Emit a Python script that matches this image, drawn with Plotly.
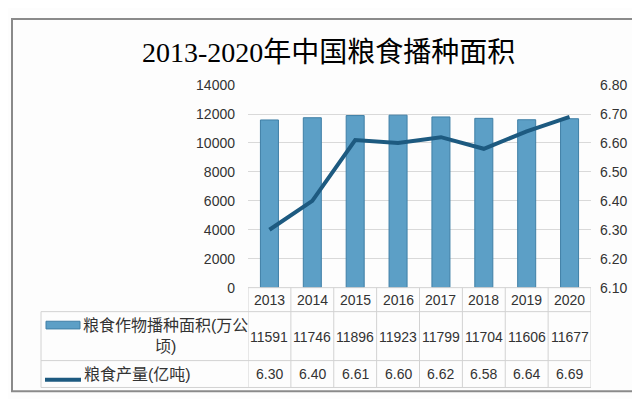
import plotly.graph_objects as go

# ---------------- data ----------------
years = ["2013", "2014", "2015", "2016", "2017", "2018", "2019", "2020"]
area = [11591, 11746, 11896, 11923, 11799, 11704, 11606, 11677]
output = [6.30, 6.40, 6.61, 6.60, 6.62, 6.58, 6.64, 6.69]
left_ticks = [0, 2000, 4000, 6000, 8000, 10000, 12000, 14000]
right_ticks = [6.10, 6.20, 6.30, 6.40, 6.50, 6.60, 6.70, 6.80]
title_text = "2013-2020年中国粮食播种面积"
area_label = "粮食作物播种面积(万公<br>顷)"
output_label = "粮食产量(亿吨)"

# ---------------- layout helpers ----------------
W, H = 640, 399


def px(x):
    return x / W


def py(y):
    return 1 - y / H


BAR_COLOR = "#5c9fc6"
BAR_EDGE = "#3f7fa6"
LINE_COLOR = "#1d5a80"
GRID = "#d9d9d9"
TBL = "#d2d2d2"
TXT = "#333333"
FONT = "Liberation Sans, Noto Sans CJK SC, sans-serif"

plot_l, plot_r, plot_t, plot_b = 240, 583, 72, 283

fig = go.Figure()
fig.add_trace(go.Bar(
    x=years, y=area, name="粮食作物播种面积(万公顷)",
    marker=dict(color=BAR_COLOR, line=dict(color=BAR_EDGE, width=1)),
    width=0.42,
))
fig.add_trace(go.Scatter(
    x=years, y=output, name="粮食产量(亿吨)", yaxis="y2", mode="lines",
    line=dict(color=LINE_COLOR, width=4),
))

shapes = []
annotations = []

# outer border
shapes.append(dict(type="rect", xref="paper", yref="paper",
                   x0=px(4), x1=px(637), y0=py(391), y1=py(3),
                   line=dict(color="#8a8a8a", width=2)))

# table horizontal lines
shapes.append(dict(type="line", xref="paper", yref="paper",
                   x0=px(plot_l), x1=px(plot_r), y0=py(plot_b), y1=py(plot_b),
                   line=dict(color=TBL, width=1)))
for yy in (308, 359, 387):
    shapes.append(dict(type="line", xref="paper", yref="paper",
                       x0=px(33), x1=px(plot_r), y0=py(yy), y1=py(yy),
                       line=dict(color=TBL, width=1)))
# table vertical lines
shapes.append(dict(type="line", xref="paper", yref="paper",
                   x0=px(33), x1=px(33), y0=py(308), y1=py(387),
                   line=dict(color=TBL, width=1)))
for i in range(len(years) + 1):
    shapes.append(dict(type="line", xref="x", yref="paper",
                       x0=i - 0.5, x1=i - 0.5, y0=py(plot_b), y1=py(387),
                       line=dict(color=TBL, width=1)))

# legend symbols in the table
shapes.append(dict(type="rect", xref="paper", yref="paper",
                   x0=px(38), x1=px(72), y0=py(326), y1=py(318),
                   fillcolor=BAR_COLOR, line=dict(color=BAR_EDGE, width=1)))
shapes.append(dict(type="line", xref="paper", yref="paper",
                   x0=px(37), x1=px(73), y0=py(379), y1=py(379),
                   line=dict(color=LINE_COLOR, width=4)))

# legend labels
annotations.append(dict(xref="paper", yref="paper", x=px(157), y=py(333),
                        text=area_label, showarrow=False, xanchor="center",
                        yanchor="middle", align="center",
                        font=dict(family=FONT, size=16, color=TXT)))
annotations.append(dict(xref="paper", yref="paper", x=px(74), y=py(373),
                        text=output_label, showarrow=False, xanchor="left",
                        yanchor="middle",
                        font=dict(family=FONT, size=16, color=TXT)))

# table values (positioned by category index on the x axis)
for i, (yr, a, o) in enumerate(zip(years, area, output)):
    annotations.append(dict(xref="x", yref="paper", x=i, y=py(296),
                            text=yr, showarrow=False, yanchor="middle",
                            font=dict(family=FONT, size=14, color=TXT)))
    annotations.append(dict(xref="x", yref="paper", x=i, y=py(334),
                            text=str(a), showarrow=False, yanchor="middle",
                            font=dict(family=FONT, size=14, color=TXT)))
    annotations.append(dict(xref="x", yref="paper", x=i, y=py(373),
                            text=f"{o:.2f}", showarrow=False, yanchor="middle",
                            font=dict(family=FONT, size=14, color=TXT)))

# title
annotations.append(dict(xref="paper", yref="paper", x=0.5, y=py(38),
                        text=title_text, showarrow=False, xanchor="center",
                        yanchor="middle",
                        font=dict(family="Liberation Serif, Noto Sans CJK SC, serif",
                                  size=28, color="#000000")))

fig.update_layout(
    width=W, height=H,
    margin=dict(l=0, r=0, t=0, b=0),
    paper_bgcolor="#fdfdfd", plot_bgcolor="#fdfdfd",
    showlegend=False,
    bargap=0.58,
    xaxis=dict(type="category", domain=[px(plot_l), px(plot_r)],
               range=[-0.5, len(years) - 0.5], showticklabels=False,
               showgrid=False, zeroline=False, showline=False, ticks=""),
    yaxis=dict(domain=[py(plot_b), py(plot_t)], range=[0, 14000],
               tickvals=left_ticks, tickformat="d", gridcolor=GRID, gridwidth=1,
               zeroline=False, showline=False, ticks="",
               ticklabelstandoff=12,
               tickfont=dict(family=FONT, size=14, color=TXT)),
    yaxis2=dict(overlaying="y", side="right", range=[6.1, 6.8],
                tickvals=right_ticks, tickformat=".2f", showgrid=False,
                zeroline=False, showline=False, ticks="",
                ticklabelstandoff=8,
                tickfont=dict(family=FONT, size=14, color=TXT)),
    shapes=shapes,
    annotations=annotations,
)

fig.write_html("out.html")
